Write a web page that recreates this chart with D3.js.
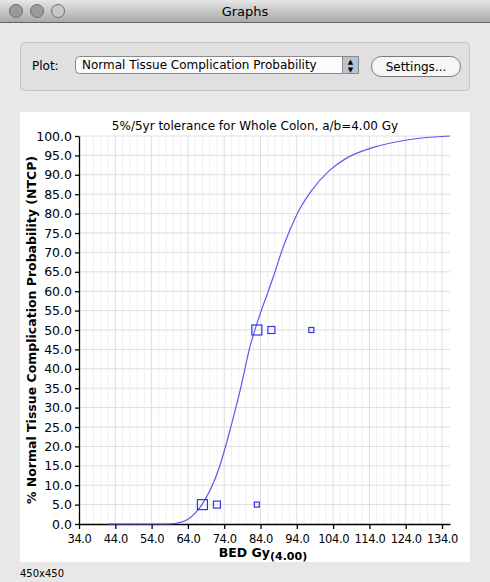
<!DOCTYPE html>
<html><head><meta charset="utf-8">
<script src="https://cdn.jsdelivr.net/npm/d3@7"></script>
<style>body{margin:0;background:#e8e8e8;font-family:"Lucida Grande","DejaVu Sans",sans-serif;}</style>
</head><body>
<svg id="s" width="490" height="582"></svg>
<script>
const curveX = [42,50,58,60,62,64,66,68,72.4,75.6,78.4,81.1,84.1,86.1,88,89.8,91.9,94.4,97.8,103.1,107.7,114.2,125.2,136.2];
const curveY = [0,0,0,0.1,0.4,1.2,2.8,5.2,13.9,24.2,34.5,45.7,54.7,59.9,65,70.2,75.3,80.5,85.6,91.2,94.3,96.8,99.1,100];
const ptX = [68,72,83,83,87,98];
const ptY = [5,5,5,50,50,50];
const ptSize = [10,7,5,10,7,5];
const xTicks = [34,44,54,64,74,84,94,104,114,124,134];
const yTicks = d3.range(0,100.1,5);

const svg = d3.select("#s");
const g = svg.append("defs").append("linearGradient").attr("id","tb").attr("x1",0).attr("x2",0).attr("y1",0).attr("y2",1);
g.append("stop").attr("offset",0).attr("stop-color","#e6e6e6");
g.append("stop").attr("offset",1).attr("stop-color","#a9a9a9");
svg.append("rect").attr("width",490).attr("height",22).attr("fill","url(#tb)");
svg.append("line").attr("x1",0).attr("x2",490).attr("y1",22.5).attr("y2",22.5).attr("stroke","#666");
[16,37,58].forEach((cx,i)=>svg.append("circle").attr("cx",cx).attr("cy",11).attr("r",6.5)
  .attr("fill",i<2?"#9a9a9a":"#c8c8c8").attr("stroke","#6f6f6f"));
svg.append("text").attr("x",245).attr("y",16).attr("text-anchor","middle").attr("font-size",13).text("Graphs");
svg.append("rect").attr("x",20.5).attr("y",42.5).attr("width",449).attr("height",48).attr("rx",4).attr("fill","#e0e0e0").attr("stroke","#c4c4c4");
svg.append("text").attr("x",32).attr("y",70).attr("font-size",12).text("Plot:");
svg.append("rect").attr("x",75.5).attr("y",56.5).attr("width",283).attr("height",17).attr("rx",4).attr("fill","#fbfbfb").attr("stroke","#888");
svg.append("rect").attr("x",342.5).attr("y",56.5).attr("width",16).attr("height",17).attr("fill","#b9c3d3").attr("stroke","#888");
svg.append("text").attr("x",350.5).attr("y",64).attr("text-anchor","middle").attr("font-size",7).text("▲");
svg.append("text").attr("x",350.5).attr("y",72).attr("text-anchor","middle").attr("font-size",7).text("▼");
svg.append("text").attr("x",82).attr("y",69).attr("font-size",12).text("Normal Tissue Complication Probability");
svg.append("rect").attr("x",371.5).attr("y",56.5).attr("width",89).attr("height",20).attr("rx",10).attr("fill","#f6f6f6").attr("stroke","#777");
svg.append("text").attr("x",416).attr("y",71).attr("text-anchor","middle").attr("font-size",12).text("Settings...");
svg.append("rect").attr("x",20).attr("y",112).attr("width",450).attr("height",450).attr("fill","#fff");
svg.append("text").attr("x",20).attr("y",577).attr("font-size",10).text("450x450");

const x = d3.scaleLinear().domain([34,136.2]).range([79,450]);
const y = d3.scaleLinear().domain([0,100]).range([524,136]);
svg.append("g").selectAll("line").data(d3.range(36,136,2).filter(v=>(v-34)%10!==0)).join("line")
  .attr("x1",d=>x(d)).attr("x2",d=>x(d)).attr("y1",136).attr("y2",524).attr("stroke","#f0f0f0");
svg.append("g").selectAll("line").data(xTicks.slice(1)).join("line")
  .attr("x1",d=>x(d)).attr("x2",d=>x(d)).attr("y1",136).attr("y2",524).attr("stroke","#dedede");
svg.append("g").selectAll("line").data(yTicks.slice(1)).join("line")
  .attr("x1",79).attr("x2",450).attr("y1",d=>y(d)).attr("y2",d=>y(d)).attr("stroke","#dedede");
const fmt = d3.format(".1f");
const xa = svg.append("g").attr("transform","translate(0,524)").call(d3.axisBottom(x).tickValues(xTicks).tickFormat(fmt).tickSize(5).tickSizeOuter(0));
const ya = svg.append("g").attr("transform","translate(79,0)").call(d3.axisLeft(y).tickValues(yTicks).tickFormat(fmt).tickSize(4).tickSizeOuter(0));
[xa,ya].forEach(a=>{a.selectAll("text").attr("font-size",12.5).attr("fill","#000").attr("font-family","'Lucida Grande','DejaVu Sans',sans-serif");
  a.selectAll("line,path").attr("stroke","#000").attr("stroke-width",1.3);});
xa.selectAll("text").attr("dy","0.95em").attr("font-size",11.5).attr("letter-spacing","-0.4");
svg.append("path").datum(curveX.map((v,i)=>[v,curveY[i]]))
  .attr("d",d3.line().x(d=>x(d[0])).y(d=>y(d[1])).curve(d3.curveMonotoneX))
  .attr("fill","none").attr("stroke","#5a5af0").attr("stroke-width",1.2);
svg.append("g").selectAll("rect").data(ptX.map((v,i)=>({x:v,y:ptY[i],s:ptSize[i]}))).join("rect")
  .attr("x",d=>x(d.x)-d.s/2).attr("y",d=>y(d.y)-d.s/2).attr("width",d=>d.s).attr("height",d=>d.s)
  .attr("fill","none").attr("stroke","#3333ee").attr("stroke-width",1.2);
svg.append("text").attr("x",255).attr("y",130).attr("text-anchor","middle").attr("font-size",12).text("5%/5yr tolerance for Whole Colon, a/b=4.00 Gy");
svg.append("text").attr("transform","translate(36,330) rotate(-90)").attr("text-anchor","middle").attr("font-size",12.5).attr("font-weight","bold").text("% Normal Tissue Complication Probability (NTCP)");
const xl = svg.append("text").attr("x",263).attr("y",557).attr("text-anchor","middle").attr("font-size",12.5).attr("font-weight","bold");
xl.append("tspan").text("BED Gy");
xl.append("tspan").attr("dy",3).attr("font-size",11).text("(4.00)");
</script></body></html>
